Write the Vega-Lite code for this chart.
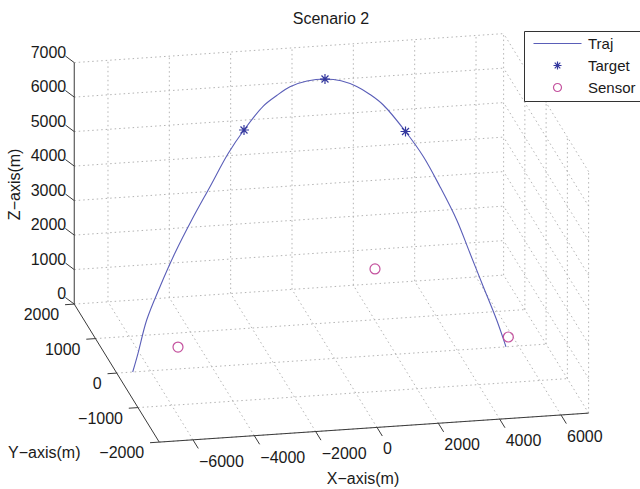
{
  "$schema": "https://vega.github.io/schema/vega-lite/v6.json",
  "width": 640,
  "height": 465,
  "autosize": {"type": "none"},
  "padding": {"top": 24, "left": 0, "right": 0, "bottom": 0},
  "background": "white",
  "title": {"text": "Scenario 2", "font": "Liberation Sans", "fontSize": 16, "fontWeight": "normal", "color": "#1a1a1a", "anchor": "middle", "dx": 11, "dy": 16, "offset": 0, "baseline": "alphabetic"},
  "config": {"view": {"stroke": null}},
  "datasets": {
    "grid": [
      {"X1": -6000, "Y1": 2000, "Z1": 0, "X2": -6000, "Y2": 2000, "Z2": 7000},
      {"X1": -4000, "Y1": 2000, "Z1": 0, "X2": -4000, "Y2": 2000, "Z2": 7000},
      {"X1": -2000, "Y1": 2000, "Z1": 0, "X2": -2000, "Y2": 2000, "Z2": 7000},
      {"X1": 0, "Y1": 2000, "Z1": 0, "X2": 0, "Y2": 2000, "Z2": 7000},
      {"X1": 2000, "Y1": 2000, "Z1": 0, "X2": 2000, "Y2": 2000, "Z2": 7000},
      {"X1": 4000, "Y1": 2000, "Z1": 0, "X2": 4000, "Y2": 2000, "Z2": 7000},
      {"X1": 6000, "Y1": 2000, "Z1": 0, "X2": 6000, "Y2": 2000, "Z2": 7000},
      {"X1": -7100, "Y1": 2000, "Z1": 0, "X2": 6900, "Y2": 2000, "Z2": 0},
      {"X1": -7100, "Y1": 2000, "Z1": 1000, "X2": 6900, "Y2": 2000, "Z2": 1000},
      {"X1": -7100, "Y1": 2000, "Z1": 2000, "X2": 6900, "Y2": 2000, "Z2": 2000},
      {"X1": -7100, "Y1": 2000, "Z1": 3000, "X2": 6900, "Y2": 2000, "Z2": 3000},
      {"X1": -7100, "Y1": 2000, "Z1": 4000, "X2": 6900, "Y2": 2000, "Z2": 4000},
      {"X1": -7100, "Y1": 2000, "Z1": 5000, "X2": 6900, "Y2": 2000, "Z2": 5000},
      {"X1": -7100, "Y1": 2000, "Z1": 6000, "X2": 6900, "Y2": 2000, "Z2": 6000},
      {"X1": -7100, "Y1": 2000, "Z1": 7000, "X2": 6900, "Y2": 2000, "Z2": 7000},
      {"X1": 6900, "Y1": -2000, "Z1": 0, "X2": 6900, "Y2": -2000, "Z2": 7000},
      {"X1": 6900, "Y1": -1000, "Z1": 0, "X2": 6900, "Y2": -1000, "Z2": 7000},
      {"X1": 6900, "Y1": 0, "Z1": 0, "X2": 6900, "Y2": 0, "Z2": 7000},
      {"X1": 6900, "Y1": 1000, "Z1": 0, "X2": 6900, "Y2": 1000, "Z2": 7000},
      {"X1": 6900, "Y1": 2000, "Z1": 0, "X2": 6900, "Y2": 2000, "Z2": 7000},
      {"X1": 6900, "Y1": -2000, "Z1": 0, "X2": 6900, "Y2": 2000, "Z2": 0},
      {"X1": 6900, "Y1": -2000, "Z1": 1000, "X2": 6900, "Y2": 2000, "Z2": 1000},
      {"X1": 6900, "Y1": -2000, "Z1": 2000, "X2": 6900, "Y2": 2000, "Z2": 2000},
      {"X1": 6900, "Y1": -2000, "Z1": 3000, "X2": 6900, "Y2": 2000, "Z2": 3000},
      {"X1": 6900, "Y1": -2000, "Z1": 4000, "X2": 6900, "Y2": 2000, "Z2": 4000},
      {"X1": 6900, "Y1": -2000, "Z1": 5000, "X2": 6900, "Y2": 2000, "Z2": 5000},
      {"X1": 6900, "Y1": -2000, "Z1": 6000, "X2": 6900, "Y2": 2000, "Z2": 6000},
      {"X1": 6900, "Y1": -2000, "Z1": 7000, "X2": 6900, "Y2": 2000, "Z2": 7000},
      {"X1": -6000, "Y1": -2000, "Z1": 0, "X2": -6000, "Y2": 2000, "Z2": 0},
      {"X1": -4000, "Y1": -2000, "Z1": 0, "X2": -4000, "Y2": 2000, "Z2": 0},
      {"X1": -2000, "Y1": -2000, "Z1": 0, "X2": -2000, "Y2": 2000, "Z2": 0},
      {"X1": 0, "Y1": -2000, "Z1": 0, "X2": 0, "Y2": 2000, "Z2": 0},
      {"X1": 2000, "Y1": -2000, "Z1": 0, "X2": 2000, "Y2": 2000, "Z2": 0},
      {"X1": 4000, "Y1": -2000, "Z1": 0, "X2": 4000, "Y2": 2000, "Z2": 0},
      {"X1": 6000, "Y1": -2000, "Z1": 0, "X2": 6000, "Y2": 2000, "Z2": 0},
      {"X1": -7100, "Y1": -2000, "Z1": 0, "X2": 6900, "Y2": -2000, "Z2": 0},
      {"X1": -7100, "Y1": -1000, "Z1": 0, "X2": 6900, "Y2": -1000, "Z2": 0},
      {"X1": -7100, "Y1": 0, "Z1": 0, "X2": 6900, "Y2": 0, "Z2": 0},
      {"X1": -7100, "Y1": 1000, "Z1": 0, "X2": 6900, "Y2": 1000, "Z2": 0}
    ],
    "frame": [
      {"X1": -7100, "Y1": 2000, "Z1": 0, "X2": -7100, "Y2": 2000, "Z2": 7000},
      {"X1": -7100, "Y1": -2000, "Z1": 0, "X2": -7100, "Y2": 2000, "Z2": 0},
      {"X1": -7100, "Y1": -2000, "Z1": 0, "X2": 6900, "Y2": -2000, "Z2": 0},
      {"X1": -7100, "Y1": 2000, "Z1": 0, "X2": -7250, "Y2": 2200, "Z2": 0},
      {"X1": -7100, "Y1": 2000, "Z1": 1000, "X2": -7250, "Y2": 2200, "Z2": 1000},
      {"X1": -7100, "Y1": 2000, "Z1": 2000, "X2": -7250, "Y2": 2200, "Z2": 2000},
      {"X1": -7100, "Y1": 2000, "Z1": 3000, "X2": -7250, "Y2": 2200, "Z2": 3000},
      {"X1": -7100, "Y1": 2000, "Z1": 4000, "X2": -7250, "Y2": 2200, "Z2": 4000},
      {"X1": -7100, "Y1": 2000, "Z1": 5000, "X2": -7250, "Y2": 2200, "Z2": 5000},
      {"X1": -7100, "Y1": 2000, "Z1": 6000, "X2": -7250, "Y2": 2200, "Z2": 6000},
      {"X1": -7100, "Y1": 2000, "Z1": 7000, "X2": -7250, "Y2": 2200, "Z2": 7000},
      {"X1": -7100, "Y1": -2000, "Z1": 0, "X2": -7400, "Y2": -2000, "Z2": 0},
      {"X1": -7100, "Y1": -1000, "Z1": 0, "X2": -7400, "Y2": -1000, "Z2": 0},
      {"X1": -7100, "Y1": 0, "Z1": 0, "X2": -7400, "Y2": 0, "Z2": 0},
      {"X1": -7100, "Y1": 1000, "Z1": 0, "X2": -7400, "Y2": 1000, "Z2": 0},
      {"X1": -7100, "Y1": 2000, "Z1": 0, "X2": -7400, "Y2": 2000, "Z2": 0},
      {"X1": -6000, "Y1": -2000, "Z1": 0, "X2": -6000, "Y2": -2250, "Z2": 0},
      {"X1": -4000, "Y1": -2000, "Z1": 0, "X2": -4000, "Y2": -2250, "Z2": 0},
      {"X1": -2000, "Y1": -2000, "Z1": 0, "X2": -2000, "Y2": -2250, "Z2": 0},
      {"X1": 0, "Y1": -2000, "Z1": 0, "X2": 0, "Y2": -2250, "Z2": 0},
      {"X1": 2000, "Y1": -2000, "Z1": 0, "X2": 2000, "Y2": -2250, "Z2": 0},
      {"X1": 4000, "Y1": -2000, "Z1": 0, "X2": 4000, "Y2": -2250, "Z2": 0},
      {"X1": 6000, "Y1": -2000, "Z1": 0, "X2": 6000, "Y2": -2250, "Z2": 0}
    ],
    "ticklabels": [
      {"ax": "z", "X": -7100, "Y": 2000, "Z": 0, "val": 0},
      {"ax": "z", "X": -7100, "Y": 2000, "Z": 1000, "val": 1000},
      {"ax": "z", "X": -7100, "Y": 2000, "Z": 2000, "val": 2000},
      {"ax": "z", "X": -7100, "Y": 2000, "Z": 3000, "val": 3000},
      {"ax": "z", "X": -7100, "Y": 2000, "Z": 4000, "val": 4000},
      {"ax": "z", "X": -7100, "Y": 2000, "Z": 5000, "val": 5000},
      {"ax": "z", "X": -7100, "Y": 2000, "Z": 6000, "val": 6000},
      {"ax": "z", "X": -7100, "Y": 2000, "Z": 7000, "val": 7000},
      {"ax": "y", "X": -7100, "Y": -2000, "Z": 0, "val": -2000},
      {"ax": "y", "X": -7100, "Y": -1000, "Z": 0, "val": -1000},
      {"ax": "y", "X": -7100, "Y": 0, "Z": 0, "val": 0},
      {"ax": "y", "X": -7100, "Y": 1000, "Z": 0, "val": 1000},
      {"ax": "y", "X": -7100, "Y": 2000, "Z": 0, "val": 2000},
      {"ax": "x", "X": -6000, "Y": -2000, "Z": 0, "val": -6000},
      {"ax": "x", "X": -4000, "Y": -2000, "Z": 0, "val": -4000},
      {"ax": "x", "X": -2000, "Y": -2000, "Z": 0, "val": -2000},
      {"ax": "x", "X": 0, "Y": -2000, "Z": 0, "val": 0},
      {"ax": "x", "X": 2000, "Y": -2000, "Z": 0, "val": 2000},
      {"ax": "x", "X": 4000, "Y": -2000, "Z": 0, "val": 4000},
      {"ax": "x", "X": 6000, "Y": -2000, "Z": 0, "val": 6000}
    ],
    "titles": [
      {"ax": "z", "name": "Z−axis(m)", "X": -7100, "Y": 2000, "Z": 3500},
      {"ax": "y", "name": "Y−axis(m)", "X": -7100, "Y": -2000, "Z": 0},
      {"ax": "x", "name": "X−axis(m)", "X": 0, "Y": -2000, "Z": 0}
    ],
    "traj": [
      {"i": 1, "X": -6580, "Y": 0, "Z": 0},
      {"i": 2, "X": -6356, "Y": 73, "Z": 456},
      {"i": 3, "X": -5983, "Y": 203, "Z": 1269},
      {"i": 4, "X": -5460, "Y": 332, "Z": 2074},
      {"i": 5, "X": -4881, "Y": 462, "Z": 2886},
      {"i": 6, "X": -4248, "Y": 588, "Z": 3678},
      {"i": 7, "X": -3563, "Y": 716, "Z": 4475},
      {"i": 8, "X": -2878, "Y": 844, "Z": 5274},
      {"i": 9, "X": -2305, "Y": 932, "Z": 5826},
      {"i": 10, "X": -1613, "Y": 1022, "Z": 6390},
      {"i": 11, "X": -1150, "Y": 1061, "Z": 6629},
      {"i": 12, "X": -694, "Y": 1092, "Z": 6825},
      {"i": 13, "X": -127, "Y": 1110, "Z": 6938},
      {"i": 14, "X": 461, "Y": 1113, "Z": 6957},
      {"i": 15, "X": 976, "Y": 1102, "Z": 6888},
      {"i": 16, "X": 1469, "Y": 1075, "Z": 6718},
      {"i": 17, "X": 1878, "Y": 1040, "Z": 6497},
      {"i": 18, "X": 2280, "Y": 994, "Z": 6214},
      {"i": 19, "X": 2927, "Y": 883, "Z": 5518},
      {"i": 20, "X": 3435, "Y": 779, "Z": 4867},
      {"i": 21, "X": 3893, "Y": 654, "Z": 4089},
      {"i": 22, "X": 4343, "Y": 517, "Z": 3234},
      {"i": 23, "X": 4682, "Y": 381, "Z": 2384},
      {"i": 24, "X": 5022, "Y": 245, "Z": 1532},
      {"i": 25, "X": 5364, "Y": 109, "Z": 682},
      {"i": 26, "X": 5592, "Y": 0, "Z": 0}
    ],
    "pts": [
      {"series": "Target", "X": -2305, "Y": 932, "Z": 5826},
      {"series": "Target", "X": 461, "Y": 1113, "Z": 6957},
      {"series": "Target", "X": 2927, "Y": 883, "Z": 5518},
      {"series": "Sensor", "X": -4680, "Y": 610, "Z": 0},
      {"series": "Sensor", "X": 2706, "Y": 2000, "Z": 430},
      {"series": "Sensor", "X": 5854, "Y": 269, "Z": 0}
    ]
  },
  "layer": [
    {
      "data": {"name": "grid"},
      "transform": [
        {"calculate": "0.03067*datum.X1 - 0.02125*datum.Y1", "as": "u"},
        {"calculate": "0.00207*datum.X1 + 0.0345*datum.Y1 + 0.0345*datum.Z1", "as": "v"},
        {"calculate": "0.03067*datum.X2 - 0.02125*datum.Y2", "as": "u2"},
        {"calculate": "0.00207*datum.X2 + 0.0345*datum.Y2 + 0.0345*datum.Z2", "as": "v2"}
      ],
      "mark": {"type": "rule", "color": "#b4b4b4", "strokeWidth": 1, "strokeDash": [1.5, 3]},
      "encoding": {
        "x": {"field": "u", "type": "quantitative", "scale": {"domain": [-334.5, 305.5], "nice": false, "zero": false}, "axis": null},
        "y": {"field": "v", "type": "quantitative", "scale": {"domain": [-130.6, 334.4], "nice": false, "zero": false}, "axis": null},
        "x2": {"field": "u2"},
        "y2": {"field": "v2"}
      }
    },
    {
      "data": {"name": "frame"},
      "transform": [
        {"calculate": "0.03067*datum.X1 - 0.02125*datum.Y1", "as": "u"},
        {"calculate": "0.00207*datum.X1 + 0.0345*datum.Y1 + 0.0345*datum.Z1", "as": "v"},
        {"calculate": "0.03067*datum.X2 - 0.02125*datum.Y2", "as": "u2"},
        {"calculate": "0.00207*datum.X2 + 0.0345*datum.Y2 + 0.0345*datum.Z2", "as": "v2"}
      ],
      "mark": {"type": "rule", "color": "#3a3a3a", "strokeWidth": 1},
      "encoding": {
        "x": {"field": "u", "type": "quantitative", "scale": {"domain": [-334.5, 305.5], "nice": false, "zero": false}, "axis": null},
        "y": {"field": "v", "type": "quantitative", "scale": {"domain": [-130.6, 334.4], "nice": false, "zero": false}, "axis": null},
        "x2": {"field": "u2"},
        "y2": {"field": "v2"}
      }
    },
    {
      "data": {"name": "ticklabels"},
      "transform": [
        {"filter": "datum.ax == 'z'"},
        {"calculate": "0.03067*datum.X - 0.02125*datum.Y", "as": "u"},
        {"calculate": "0.00207*datum.X + 0.0345*datum.Y + 0.0345*datum.Z", "as": "v"}
      ],
      "mark": {"type": "text", "font": "Liberation Sans", "fontSize": 16, "color": "#1a1a1a", "align": "right", "baseline": "middle", "dx": -8, "dy": -10},
      "encoding": {
        "x": {"field": "u", "type": "quantitative", "scale": {"domain": [-334.5, 305.5], "nice": false, "zero": false}, "axis": null},
        "y": {"field": "v", "type": "quantitative", "scale": {"domain": [-130.6, 334.4], "nice": false, "zero": false}, "axis": null},
        "text": {"field": "val", "type": "quantitative", "format": "d"}
      }
    },
    {
      "data": {"name": "ticklabels"},
      "transform": [
        {"filter": "datum.ax == 'y'"},
        {"calculate": "0.03067*datum.X - 0.02125*datum.Y", "as": "u"},
        {"calculate": "0.00207*datum.X + 0.0345*datum.Y + 0.0345*datum.Z", "as": "v"}
      ],
      "mark": {"type": "text", "font": "Liberation Sans", "fontSize": 16, "color": "#1a1a1a", "align": "right", "baseline": "middle", "dx": -15, "dy": 11},
      "encoding": {
        "x": {"field": "u", "type": "quantitative", "scale": {"domain": [-334.5, 305.5], "nice": false, "zero": false}, "axis": null},
        "y": {"field": "v", "type": "quantitative", "scale": {"domain": [-130.6, 334.4], "nice": false, "zero": false}, "axis": null},
        "text": {"field": "val", "type": "quantitative", "format": "d"}
      }
    },
    {
      "data": {"name": "ticklabels"},
      "transform": [
        {"filter": "datum.ax == 'x'"},
        {"calculate": "0.03067*datum.X - 0.02125*datum.Y", "as": "u"},
        {"calculate": "0.00207*datum.X + 0.0345*datum.Y + 0.0345*datum.Z", "as": "v"}
      ],
      "mark": {"type": "text", "font": "Liberation Sans", "fontSize": 16, "color": "#1a1a1a", "align": "left", "baseline": "middle", "dx": 6, "dy": 22},
      "encoding": {
        "x": {"field": "u", "type": "quantitative", "scale": {"domain": [-334.5, 305.5], "nice": false, "zero": false}, "axis": null},
        "y": {"field": "v", "type": "quantitative", "scale": {"domain": [-130.6, 334.4], "nice": false, "zero": false}, "axis": null},
        "text": {"field": "val", "type": "quantitative", "format": "d"}
      }
    },
    {
      "data": {"name": "titles"},
      "transform": [
        {"filter": "datum.ax == 'z'"},
        {"calculate": "0.03067*datum.X - 0.02125*datum.Y", "as": "u"},
        {"calculate": "0.00207*datum.X + 0.0345*datum.Y + 0.0345*datum.Z", "as": "v"}
      ],
      "mark": {"type": "text", "font": "Liberation Sans", "fontSize": 16, "color": "#1a1a1a", "align": "center", "baseline": "middle", "angle": 270, "dx": -1, "dy": -59},
      "encoding": {
        "x": {"field": "u", "type": "quantitative", "scale": {"domain": [-334.5, 305.5], "nice": false, "zero": false}, "axis": null},
        "y": {"field": "v", "type": "quantitative", "scale": {"domain": [-130.6, 334.4], "nice": false, "zero": false}, "axis": null},
        "text": {"field": "name"}
      }
    },
    {
      "data": {"name": "titles"},
      "transform": [
        {"filter": "datum.ax == 'y'"},
        {"calculate": "0.03067*datum.X - 0.02125*datum.Y", "as": "u"},
        {"calculate": "0.00207*datum.X + 0.0345*datum.Y + 0.0345*datum.Z", "as": "v"}
      ],
      "mark": {"type": "text", "font": "Liberation Sans", "fontSize": 16, "color": "#1a1a1a", "align": "center", "baseline": "middle", "dx": -115, "dy": 11},
      "encoding": {
        "x": {"field": "u", "type": "quantitative", "scale": {"domain": [-334.5, 305.5], "nice": false, "zero": false}, "axis": null},
        "y": {"field": "v", "type": "quantitative", "scale": {"domain": [-130.6, 334.4], "nice": false, "zero": false}, "axis": null},
        "text": {"field": "name"}
      }
    },
    {
      "data": {"name": "titles"},
      "transform": [
        {"filter": "datum.ax == 'x'"},
        {"calculate": "0.03067*datum.X - 0.02125*datum.Y", "as": "u"},
        {"calculate": "0.00207*datum.X + 0.0345*datum.Y + 0.0345*datum.Z", "as": "v"}
      ],
      "mark": {"type": "text", "font": "Liberation Sans", "fontSize": 16, "color": "#1a1a1a", "align": "center", "baseline": "middle", "dx": -14, "dy": 52},
      "encoding": {
        "x": {"field": "u", "type": "quantitative", "scale": {"domain": [-334.5, 305.5], "nice": false, "zero": false}, "axis": null},
        "y": {"field": "v", "type": "quantitative", "scale": {"domain": [-130.6, 334.4], "nice": false, "zero": false}, "axis": null},
        "text": {"field": "name"}
      }
    },
    {
      "data": {"name": "traj"},
      "transform": [
        {"calculate": "0.03067*datum.X - 0.02125*datum.Y", "as": "u"},
        {"calculate": "0.00207*datum.X + 0.0345*datum.Y + 0.0345*datum.Z", "as": "v"}
      ],
      "mark": {"type": "line", "color": "#5a5eb8", "strokeWidth": 1.1, "interpolate": "catmull-rom"},
      "encoding": {
        "x": {"field": "u", "type": "quantitative", "scale": {"domain": [-334.5, 305.5], "nice": false, "zero": false}, "axis": null},
        "y": {"field": "v", "type": "quantitative", "scale": {"domain": [-130.6, 334.4], "nice": false, "zero": false}, "axis": null},
        "order": {"field": "i", "type": "quantitative"}
      }
    },
    {
      "data": {"name": "pts"},
      "transform": [
        {"calculate": "0.03067*datum.X - 0.02125*datum.Y", "as": "u"},
        {"calculate": "0.00207*datum.X + 0.0345*datum.Y + 0.0345*datum.Z", "as": "v"}
      ],
      "mark": {"type": "point", "filled": false, "size": 100, "strokeWidth": 1.2, "opacity": 1},
      "encoding": {
        "x": {"field": "u", "type": "quantitative", "scale": {"domain": [-334.5, 305.5], "nice": false, "zero": false}, "axis": null},
        "y": {"field": "v", "type": "quantitative", "scale": {"domain": [-130.6, 334.4], "nice": false, "zero": false}, "axis": null},
        "color": {
          "field": "series", "type": "nominal",
          "scale": {"domain": ["Traj", "Target", "Sensor"], "range": ["#5a5eb8", "#34389e", "#c4529e"]},
          "legend": {
            "title": null, "orient": "none", "legendX": 524, "legendY": 7,
            "strokeColor": "#333333", "fillColor": "white", "padding": 5,
            "symbolOffset": 21, "labelOffset": 23, "symbolSize": 64, "symbolStrokeWidth": 1.2,
            "labelFont": "Liberation Sans", "labelFontSize": 15, "labelColor": "#1a1a1a", "rowPadding": 6
          }
        },
        "shape": {
          "field": "series", "type": "nominal",
          "scale": {"domain": ["Traj", "Target", "Sensor"], "range": ["M-6,0L6,0", "M-1,0L1,0M0,-1L0,1M-0.7,-0.7L0.7,0.7M-0.7,0.7L0.7,-0.7", "circle"]},
          "legend": {
            "title": null, "orient": "none", "legendX": 524, "legendY": 7,
            "strokeColor": "#333333", "fillColor": "white", "padding": 5,
            "symbolOffset": 21, "labelOffset": 23, "symbolSize": 64, "symbolStrokeWidth": 1.2,
            "labelFont": "Liberation Sans", "labelFontSize": 15, "labelColor": "#1a1a1a", "rowPadding": 6
          }
        }
      }
    }
  ]
}
